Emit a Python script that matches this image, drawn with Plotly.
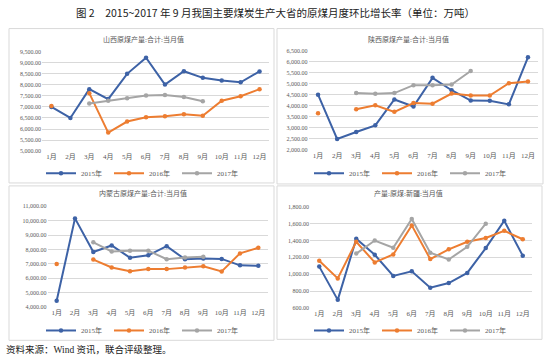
import plotly.graph_objects as go

months = ["1月", "2月", "3月", "4月", "5月", "6月", "7月", "8月", "9月", "10月", "11月", "12月"]
series_names = ["2015年", "2016年", "2017年"]

# 山西
shanxi_2015 = [7000, 6500, 7800, 7350, 8490, 9220, 8010, 8610, 8310, 8190, 8110, 8600]
shanxi_2016 = [7040, None, 7620, 5840, 6340, 6530, 6580, 6670, 6600, 7280, 7480, 7800]
shanxi_2017 = [None, None, 7150, 7280, 7390, 7510, 7540, 7450, 7250, None, None, None]
# 陕西
shaanxi_2015 = [4500, 2490, 2810, 3110, 4280, 3960, 5260, 4700, 4230, 4220, 4060, 6190]
shaanxi_2016 = [3660, None, 3840, 4020, 3720, 4120, 4090, 4550, 4460, 4460, 5020, 5100]
shaanxi_2017 = [None, None, 4580, 4540, 4570, 4930, 4930, 4960, 5570, None, None, None]
# 内蒙古
nmg_2015 = [4450, 10160, 7830, 8280, 7430, 7600, 8230, 7320, 7380, 7350, 6900, 6870]
nmg_2016 = [7000, None, 7300, 6750, 6500, 6640, 6640, 6750, 6840, 6480, 7730, 8120]
nmg_2017 = [None, None, 8500, 7870, 7920, 7920, 7330, 7450, 7500, None, None, None]
# 新疆
xj_2015 = [1090, 695, 1420, 1230, 980, 1035, 840, 895, 1015, 1310, 1635, 1220]
xj_2016 = [1160, 950, 1385, 1140, 1235, 1580, 1180, 1295, 1385, 1430, 1515, 1415]
xj_2017 = [None, None, 1245, 1400, 1315, 1655, 1255, 1175, 1325, 1600, None, None]

panel_titles = ["山西原煤产量:合计:当月值", "陕西原煤产量:合计:当月值",
                "内蒙古原煤产量:合计:当月值", "产量:原煤:新疆:当月值"]
panel_data = [
    [shanxi_2015, shanxi_2016, shanxi_2017],
    [shaanxi_2015, shaanxi_2016, shaanxi_2017],
    [nmg_2015, nmg_2016, nmg_2017],
    [xj_2015, xj_2016, xj_2017],
]
y_ranges = [(5000, 9500, 500), (2000, 6500, 500), (4000, 11000, 1000), (600, 1800, 200)]

W, H = 550, 362
def px(x):
    return x / W
def py(y):
    return 1 - y / H

colors = ["#3D62A6", "#ED7D31", "#A5A5A5"]
FONT = "Liberation Serif, Noto Sans CJK SC"
GRID = "#D9D9D9"
TXT = "#595959"

# plot area pixel geometry: (x0, x1, ytop, ybottom)
areas = [(42, 269, 49.3, 150.7), (308.5, 537.5, 48.3, 149.3),
         (47.5, 267.5, 206.7, 309.3), (310, 532, 207.3, 310)]
title_pos = [(143, 37), (408, 37), (143, 194), (408, 194)]
legend_pos = [(143, 173), (411, 173), (143, 333), (411, 333)]
boxes = [(9, 26, 274, 183), (277, 26, 543, 184), (9, 186, 274, 343), (277, 186, 542, 342)]

fig = go.Figure()
layout = dict(width=W, height=H, margin=dict(l=0, r=0, t=0, b=0),
              paper_bgcolor="white", plot_bgcolor="white", showlegend=True,
              font=dict(family=FONT, size=7, color=TXT))
annotations = []
shapes = []

for i in range(4):
    xa = "x" if i == 0 else f"x{i+1}"
    ya = "y" if i == 0 else f"y{i+1}"
    lg = "legend" if i == 0 else f"legend{i+1}"
    for s in range(3):
        fig.add_trace(go.Scatter(
            x=months, y=panel_data[i][s], name=series_names[s],
            mode="lines+markers", connectgaps=False,
            line=dict(color=colors[s], width=2),
            marker=dict(color=colors[s], size=4.5),
            xaxis=xa, yaxis=ya, legend=lg,
        ))
    x0, x1, yt, yb = areas[i]
    lo, hi, dt = y_ranges[i]
    xkey = "xaxis" if i == 0 else f"xaxis{i+1}"
    ykey = "yaxis" if i == 0 else f"yaxis{i+1}"
    layout[xkey] = dict(domain=[px(x0), px(x1)], anchor=ya, type="category",
                        categoryorder="array", categoryarray=months,
                        range=[-0.5, 11.5], showgrid=False, showline=False,
                        ticks="", ticklen=0, tickfont=dict(size=7, color=TXT, family=FONT),
                        fixedrange=True)
    layout[ykey] = dict(domain=[py(yb), py(yt)], anchor=xa, range=[lo, hi],
                        dtick=dt, tick0=lo, tickformat=",.2f", showgrid=True,
                        gridcolor=GRID, gridwidth=1, zeroline=False, showline=False,
                        ticks="", ticklen=0, tickfont=dict(size=6, color=TXT, family=FONT),
                        fixedrange=True)
    lx, ly = legend_pos[i]
    layout[lg] = dict(orientation="h", x=px(lx), y=py(ly), xanchor="center",
                      yanchor="middle", font=dict(size=7, color=TXT, family=FONT),
                      bgcolor="rgba(0,0,0,0)", itemwidth=30, entrywidth=23,
                      tracegroupgap=0)
    tx, ty = title_pos[i]
    annotations.append(dict(text=panel_titles[i], x=px(tx), y=py(ty), xref="paper",
                            yref="paper", showarrow=False, xanchor="center",
                            yanchor="middle", font=dict(size=7, color=TXT, family=FONT)))
    bx0, by0, bx1, by1 = boxes[i]
    shapes.append(dict(type="rect", xref="paper", yref="paper", x0=px(bx0), x1=px(bx1),
                       y0=py(by1), y1=py(by0), line=dict(color="#D9D9D9", width=1),
                       fillcolor="rgba(0,0,0,0)", layer="below"))

annotations.append(dict(text="图 2　2015~2017 年 9 月我国主要煤炭生产大省的原煤月度环比增长率（单位：万吨）",
                        x=px(275), y=py(10), xref="paper", yref="paper", showarrow=False,
                        xanchor="center", yanchor="middle",
                        font=dict(size=10.5, color="#222222", family="Noto Sans CJK SC")))
annotations.append(dict(text="资料来源：Wind 资讯，联合评级整理。", x=px(4), y=py(352),
                        xref="paper", yref="paper", showarrow=False, xanchor="left",
                        yanchor="middle",
                        font=dict(size=9.5, color="#222222", family="Liberation Serif, Noto Sans CJK SC")))

layout["annotations"] = annotations
layout["shapes"] = shapes
fig.update_layout(**layout)
fig.write_html("out.html", config={"displayModeBar": False},
               post_script="document.body.style.margin='0';document.body.style.padding='0';document.body.style.overflow='hidden';")
